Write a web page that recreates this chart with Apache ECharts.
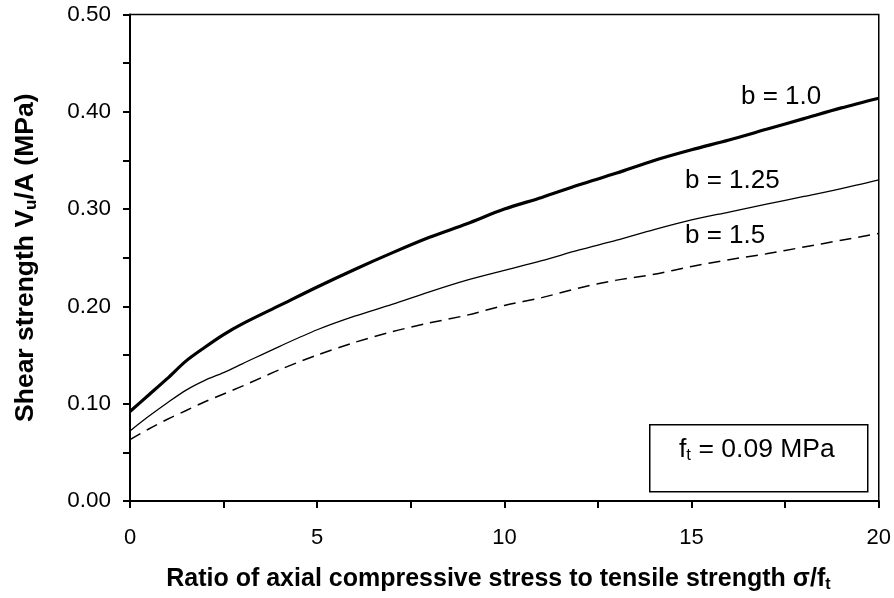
<!DOCTYPE html>
<html>
<head>
<meta charset="UTF-8">
<title>Shear strength vs axial stress ratio</title>
<script src="https://cdn.jsdelivr.net/npm/echarts@6/dist/echarts.min.js"></script>
<style>
    html, body { margin: 0; padding: 0; background: #fff; }
    #chart { width: 894px; height: 598px; }
</style>
</head>
<body>
<div id="chart"></div>
<script>
    // x = sigma / f_t
    const ratio = [0, 0.5, 1, 1.5, 2, 2.5, 3, 4, 5, 6, 7, 8, 9, 10, 11, 12, 13, 14, 15, 16, 17, 18, 19, 20];
    // Vu/A (MPa) for each b
    const b100 = [0.092, 0.109, 0.126, 0.144, 0.158, 0.171, 0.182, 0.201, 0.220, 0.238, 0.255, 0.271, 0.285, 0.300,
                  0.312, 0.325, 0.337, 0.350, 0.361, 0.371, 0.382, 0.393, 0.404, 0.414];
    const b125 = [0.072, 0.087, 0.101, 0.114, 0.124, 0.132, 0.141, 0.159, 0.176, 0.190, 0.202, 0.215, 0.227, 0.237,
                  0.247, 0.258, 0.268, 0.279, 0.289, 0.297, 0.305, 0.313, 0.321, 0.330];
    const b150 = [0.063, 0.074, 0.084, 0.093, 0.102, 0.110, 0.118, 0.135, 0.150, 0.163, 0.174, 0.183, 0.191, 0.201,
                  0.209, 0.219, 0.227, 0.233, 0.241, 0.248, 0.254, 0.261, 0.268, 0.275];
    const seriesNames = ['b = 1.0', 'b = 1.25', 'b = 1.5'];

    const pair = arr => ratio.map((x, i) => [x, arr[i]]);
    const font = '"Liberation Sans", Arial, sans-serif';

    const subRich = (size, bold) => ({
        n: { fontFamily: font, fontSize: size, fontWeight: bold ? 'bold' : 'normal', color: '#000', fill: '#000', lineHeight: size + 3 },
        s: { fontFamily: font, fontSize: Math.round(size * 0.64), fontWeight: bold ? 'bold' : 'normal', color: '#000', fill: '#000',
             lineHeight: 11, verticalAlign: 'bottom' }
    });

    const chart = echarts.init(document.getElementById('chart'));
    chart.setOption({
        animation: false,
        grid: {
            left: 130, right: 14, top: 14.5, bottom: 96.5,
            show: true, borderColor: '#000', borderWidth: 1.5
        },
        xAxis: {
            type: 'value', min: 0, max: 20, interval: 5,
            name: '{n|Ratio of axial compressive stress to tensile strength σ/f}{s|t}',
            nameLocation: 'middle', nameGap: 64,
            nameTextStyle: { rich: subRich(25, true), padding: [0, 12, 0, 0] },
            axisLine: { lineStyle: { color: '#000', width: 2 } },
            axisTick: { length: 7, lineStyle: { color: '#000', width: 2 } },
            minorTick: { show: true, splitNumber: 2, length: 7, lineStyle: { color: '#000', width: 2 } },
            splitLine: { show: false },
            axisLabel: { fontFamily: font, fontSize: 22, color: '#000', margin: 26 }
        },
        yAxis: {
            type: 'value', min: 0, max: 0.5, interval: 0.1,
            name: '{n|Shear strength V}{s|u}{n|/A (MPa)}',
            nameLocation: 'middle', nameGap: 90,
            nameTextStyle: { rich: subRich(26.5, true) },
            axisLine: { show: true, lineStyle: { color: '#000', width: 2 } },
            axisTick: { show: true, length: 7, lineStyle: { color: '#000', width: 2 } },
            minorTick: { show: true, splitNumber: 2, length: 7, lineStyle: { color: '#000', width: 2 } },
            splitLine: { show: false },
            axisLabel: {
                fontFamily: font, fontSize: 22.5, color: '#000', margin: 19,
                formatter: v => v.toFixed(2)
            }
        },
        series: [
            {
                name: seriesNames[0], type: 'line', data: pair(b100), showSymbol: false, smooth: 0.3,
                lineStyle: { color: '#000', width: 3.2 }
            },
            {
                name: seriesNames[1], type: 'line', data: pair(b125), showSymbol: false, smooth: 0.3,
                lineStyle: { color: '#000', width: 1.3 }
            },
            {
                name: seriesNames[2], type: 'line', data: pair(b150), showSymbol: false, smooth: 0.3,
                lineStyle: { color: '#000', width: 1.5, type: [12, 7] }
            }
        ],
        graphic: [
            { type: 'text', left: 741, top: 84, style: { text: seriesNames[0], fontFamily: font, fontSize: 26, fill: '#000' } },
            { type: 'text', left: 685, top: 168, style: { text: seriesNames[1], fontFamily: font, fontSize: 26, fill: '#000' } },
            { type: 'text', left: 685, top: 223, style: { text: seriesNames[2], fontFamily: font, fontSize: 26, fill: '#000' } },
            {
                type: 'rect', left: 649, top: 424,
                shape: { width: 218, height: 67 },
                style: { fill: '#fff', stroke: '#000', lineWidth: 1.5 }
            },
            {
                type: 'text', left: 679, top: 436,
                style: { text: '{n|f}{s|t}{n| = 0.09 MPa}', rich: subRich(26.5, false) }
            }
        ]
    });
</script>
</body>
</html>
